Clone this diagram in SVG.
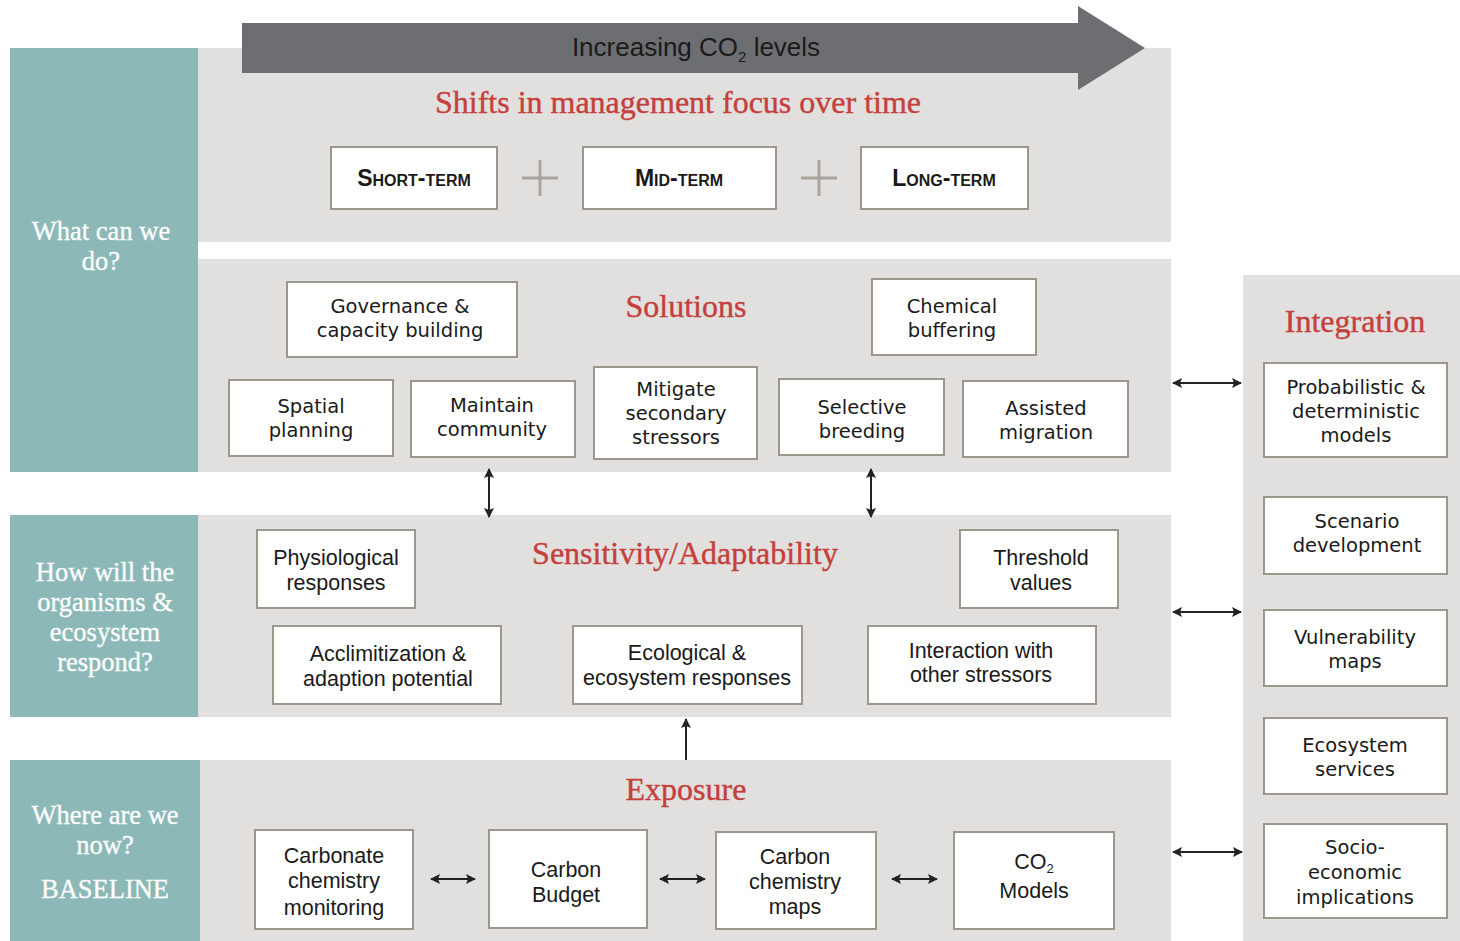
<svg xmlns="http://www.w3.org/2000/svg" width="1460" height="941" viewBox="0 0 1460 941">
<style>
.teal{fill:#8cb9b7}
.panel{fill:#e1e0de}
.box{fill:#fff;stroke:#9b978d;stroke-width:2}
.head{font-family:"Liberation Serif",Georgia,serif;fill:#c53f3c;text-anchor:middle;font-size:32px;stroke:#c53f3c;stroke-width:0.4}
.q{font-family:"Liberation Serif",Georgia,serif;fill:#fff;font-size:26.5px;text-anchor:middle;stroke:#fff;stroke-width:0.3}
.lg{font-family:"DejaVu Sans",sans-serif;font-size:19.5px;fill:#1a1a1a;text-anchor:middle}
.my{font-family:"Liberation Sans",Arial,sans-serif;font-size:21.5px;fill:#1a1a1a;text-anchor:middle}
.sc{font-family:"Liberation Sans",Arial,sans-serif;font-size:23px;font-weight:bold;font-variant:small-caps;fill:#1a1a1a;text-anchor:middle}
.plus{stroke:#a9a59d;stroke-width:3}
.con{stroke:#222;stroke-width:2;fill:none;marker-end:url(#ah);marker-start:url(#ah)}
.con1{stroke:#222;stroke-width:2;fill:none;marker-end:url(#ah)}
</style>
<defs>
<marker id="ah" viewBox="0 0 10 10" refX="9" refY="5" markerWidth="5" markerHeight="5" orient="auto-start-reverse" markerUnits="strokeWidth">
<path d="M0,0 L10,5 L0,10 L2,5 Z" fill="#222"/>
</marker>
</defs>
<rect width="1460" height="941" fill="#fff"/>

<!-- panels -->
<g id="panels">
<rect class="teal" x="10" y="48" width="188" height="424"/>
<rect class="panel" x="198" y="48" width="973" height="194"/>
<rect class="panel" x="198" y="259" width="973" height="213"/>
<rect class="teal" x="10" y="515" width="188" height="202"/>
<rect class="panel" x="198" y="515" width="973" height="202"/>
<rect class="teal" x="10" y="760" width="190" height="181"/>
<rect class="panel" x="200" y="760" width="971" height="181"/>
<rect class="panel" x="1243" y="275" width="217" height="666"/>
</g>

<g id="questions">
<text class="q" x="101" y="240">What can we</text>
<text class="q" x="101" y="270">do?</text>
<text class="q" x="105" y="581">How will the</text>
<text class="q" x="105" y="611">organisms &amp;</text>
<text class="q" x="105" y="641">ecosystem</text>
<text class="q" x="105" y="671">respond?</text>
<text class="q" x="105" y="824">Where are we</text>
<text class="q" x="105" y="854">now?</text>
<text class="q" x="105" y="898">BASELINE</text>
</g>

<!-- top arrow -->
<g id="co2-arrow">
<path d="M242,23 L1078,23 L1078,6 L1145,48 L1078,90 L1078,73 L242,73 Z" fill="#6d6e71"/>
<text x="696" y="56" font-family="'Liberation Sans',Arial,sans-serif" font-size="26" fill="#1a1a1a" text-anchor="middle">Increasing CO<tspan font-size="15" dy="6">2</tspan><tspan dy="-6"> levels</tspan></text>
</g>

<g id="headings">
<text class="head" x="678" y="113">Shifts in management focus over time</text>
<text class="head" x="686" y="317">Solutions</text>
<text class="head" x="685" y="564">Sensitivity/Adaptability</text>
<text class="head" x="686" y="800">Exposure</text>
<text class="head" x="1355" y="332">Integration</text>
</g>

<!-- term boxes -->
<g id="short-term"><rect class="box" x="331" y="147" width="166" height="62"/><text class="sc" x="414" y="186">Short-term</text></g>
<g id="mid-term"><rect class="box" x="583" y="147" width="193" height="62"/><text class="sc" x="679" y="186">Mid-term</text></g>
<g id="long-term"><rect class="box" x="861" y="147" width="167" height="62"/><text class="sc" x="944" y="186">Long-term</text></g>
<g id="plus-signs">
<path class="plus" d="M522,178 H558 M540,160 V196"/>
<path class="plus" d="M801,178 H837 M819,160 V196"/>
</g>

<!-- solutions -->
<g id="governance"><rect class="box" x="287" y="282" width="230" height="75"/><text class="lg" x="400" y="313">Governance &amp;</text><text class="lg" x="400" y="337">capacity building</text></g>
<g id="chemical-buffering"><rect class="box" x="872" y="279" width="164" height="76"/><text class="lg" x="952" y="313">Chemical</text><text class="lg" x="952" y="337">buffering</text></g>
<g id="spatial-planning"><rect class="box" x="229" y="380" width="164" height="76"/><text class="lg" x="311" y="413">Spatial</text><text class="lg" x="311" y="437">planning</text></g>
<g id="maintain-community"><rect class="box" x="411" y="381" width="164" height="76"/><text class="lg" x="492" y="412">Maintain</text><text class="lg" x="492" y="436">community</text></g>
<g id="mitigate"><rect class="box" x="594" y="367" width="163" height="92"/><text class="lg" x="676" y="396">Mitigate</text><text class="lg" x="676" y="420">secondary</text><text class="lg" x="676" y="444">stressors</text></g>
<g id="selective-breeding"><rect class="box" x="779" y="379" width="165" height="76"/><text class="lg" x="862" y="414">Selective</text><text class="lg" x="862" y="438">breeding</text></g>
<g id="assisted-migration"><rect class="box" x="963" y="381" width="165" height="76"/><text class="lg" x="1046" y="415">Assisted</text><text class="lg" x="1046" y="439">migration</text></g>

<!-- sensitivity -->
<g id="physiological"><rect class="box" x="257" y="530" width="158" height="78"/><text class="my" x="336" y="565">Physiological</text><text class="my" x="336" y="590">responses</text></g>
<g id="threshold"><rect class="box" x="960" y="530" width="158" height="78"/><text class="my" x="1041" y="565">Threshold</text><text class="my" x="1041" y="590">values</text></g>
<g id="acclimitization"><rect class="box" x="273" y="626" width="228" height="78"/><text class="my" x="388" y="661">Acclimitization &amp;</text><text class="my" x="388" y="686">adaption potential</text></g>
<g id="ecological"><rect class="box" x="573" y="626" width="229" height="78"/><text class="my" x="687" y="660">Ecological &amp;</text><text class="my" x="687" y="685">ecosystem responses</text></g>
<g id="interaction"><rect class="box" x="868" y="626" width="228" height="78"/><text class="my" x="981" y="658">Interaction with</text><text class="my" x="981" y="682">other stressors</text></g>

<!-- exposure -->
<g id="carbonate-monitoring"><rect class="box" x="255" y="830" width="158" height="99"/><text class="my" x="334" y="863">Carbonate</text><text class="my" x="334" y="888">chemistry</text><text class="my" x="334" y="915">monitoring</text></g>
<g id="carbon-budget"><rect class="box" x="489" y="830" width="158" height="98"/><text class="my" x="566" y="877">Carbon</text><text class="my" x="566" y="902">Budget</text></g>
<g id="carbon-maps"><rect class="box" x="716" y="832" width="160" height="97"/><text class="my" x="795" y="864">Carbon</text><text class="my" x="795" y="889">chemistry</text><text class="my" x="795" y="914">maps</text></g>
<g id="co2-models"><rect class="box" x="954" y="832" width="160" height="97"/><text class="my" x="1034" y="869">CO<tspan font-size="13" dy="4">2</tspan></text><text class="my" x="1034" y="898">Models</text></g>

<!-- integration -->
<g id="probabilistic"><rect class="box" x="1264" y="363" width="183" height="94"/><text class="lg" x="1356" y="394">Probabilistic &amp;</text><text class="lg" x="1356" y="418">deterministic</text><text class="lg" x="1356" y="442">models</text></g>
<g id="scenario"><rect class="box" x="1264" y="497" width="183" height="77"/><text class="lg" x="1357" y="528">Scenario</text><text class="lg" x="1357" y="552">development</text></g>
<g id="vulnerability"><rect class="box" x="1264" y="610" width="183" height="76"/><text class="lg" x="1355" y="644">Vulnerability</text><text class="lg" x="1355" y="668">maps</text></g>
<g id="ecosystem-services"><rect class="box" x="1264" y="718" width="183" height="76"/><text class="lg" x="1355" y="752">Ecosystem</text><text class="lg" x="1355" y="776">services</text></g>
<g id="socio-economic"><rect class="box" x="1264" y="824" width="183" height="94"/><text class="lg" x="1355" y="854">Socio-</text><text class="lg" x="1355" y="879">economic</text><text class="lg" x="1355" y="904">implications</text></g>

<!-- connectors -->
<g id="connectors">
<line class="con" x1="489" y1="469" x2="489" y2="517"/>
<line class="con" x1="871" y1="469" x2="871" y2="517"/>
<line class="con1" x1="686" y1="760" x2="686" y2="719"/>
<line class="con" x1="431" y1="879" x2="475" y2="879"/>
<line class="con" x1="660" y1="879" x2="705" y2="879"/>
<line class="con" x1="892" y1="879" x2="937" y2="879"/>
<line class="con" x1="1173" y1="383" x2="1241" y2="383"/>
<line class="con" x1="1173" y1="612" x2="1241" y2="612"/>
<line class="con" x1="1173" y1="852" x2="1242" y2="852"/>
</g>
</svg>
